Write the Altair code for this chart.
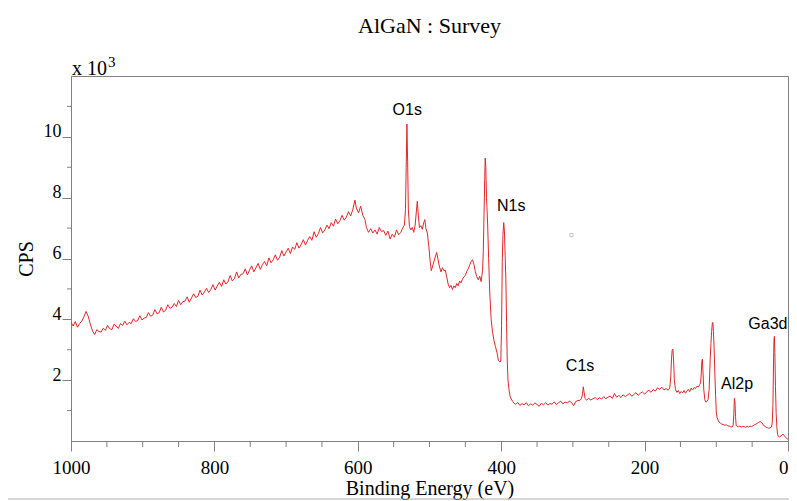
import altair as alt
import pandas as pd

# ---------------- data ----------------
ev1 = [1000, 997, 994, 991, 988, 985, 982, 979, 976, 973, 970, 967, 964, 961, 958, 955, 952, 949, 946, 943,
       940, 937, 934, 931, 928, 925, 922, 919, 916, 913, 910, 907, 904, 901, 898, 895, 892, 889, 886, 883,
       880, 877, 874, 871, 868, 865, 862, 859, 856, 853, 850, 847, 844, 841, 838, 835, 832, 829, 826, 823,
       820, 817, 814, 811, 808, 805, 802, 799, 796, 793, 790, 787, 784, 781, 778, 775, 772, 769, 766, 763,
       760, 757, 754, 751, 748, 745, 742, 739, 736, 733, 730, 727, 724, 721, 718, 715, 712, 709, 706, 703,
       700, 697, 694, 691, 688, 685, 682, 679, 676, 673, 670, 667, 664, 661, 658, 655, 652, 649, 646, 643,
       640, 637, 634, 631, 628, 625, 622, 619, 616, 613, 610, 607, 604, 602, 599, 596, 593, 590, 588]
cps1 = [3.90, 3.78, 3.93, 3.74, 3.86, 3.94, 4.08, 4.26, 4.10, 3.84, 3.62, 3.50, 3.66, 3.60, 3.58, 3.71, 3.64, 3.80, 3.69, 3.66,
        3.84, 3.78, 3.70, 3.86, 3.80, 3.94, 3.82, 3.90, 3.86, 4.02, 3.93, 3.96, 4.12, 3.98, 4.04, 4.06, 4.22, 4.10, 4.14, 4.32,
        4.18, 4.22, 4.40, 4.24, 4.30, 4.48, 4.36, 4.40, 4.52, 4.42, 4.62, 4.48, 4.58, 4.60, 4.74, 4.56, 4.70, 4.84, 4.72, 4.76,
        4.96, 4.80, 4.90, 5.02, 4.88, 4.98, 5.14, 4.96, 5.10, 5.22, 5.08, 5.30, 5.16, 5.24, 5.44, 5.26, 5.34, 5.56, 5.36, 5.48,
        5.50, 5.66, 5.46, 5.62, 5.76, 5.56, 5.70, 5.84, 5.64, 5.80, 5.90, 5.76, 6.02, 5.86, 5.96, 6.12, 5.94, 6.04, 6.26, 6.08,
        6.22, 6.34, 6.16, 6.38, 6.30, 6.52, 6.34, 6.46, 6.62, 6.44, 6.60, 6.72, 6.60, 6.88, 6.70, 6.82, 7.02, 6.84, 6.94, 7.10,
        6.98, 7.18, 7.06, 7.30, 7.14, 7.24, 7.42, 7.26, 7.36, 7.54, 7.40, 7.60, 7.92, 7.66, 7.50, 7.72, 7.42, 7.28, 7.02]

ev2 = [585, 582, 579, 576, 573, 570, 567, 564, 561, 558, 555, 552, 549, 546, 543, 540, 537, 535, 533.5, 532.5,
       531.5, 530.5, 529.5, 528, 526, 524, 522, 520, 518.5, 517, 515.5, 514, 512, 510, 508, 506.5, 505, 503, 501, 499,
       497.5, 496, 494, 492, 490, 488, 486, 484, 482, 480, 478, 476, 474, 472, 470, 468, 466, 464, 462, 460,
       458, 456, 454, 452, 450, 448, 446, 444, 442, 440, 438, 436, 434, 432, 430, 428, 426, 425, 424, 423,
       422.3, 421.5, 420.5, 419, 417.5, 416, 414, 412, 410, 408, 406, 404, 402, 400.5, 399.5, 398.5, 397.5, 396.5, 395.5, 394.5,
       393.5, 392.5, 391.5, 390.5, 389, 387.5, 386, 384, 382]
cps2 = [6.86, 6.98, 6.84, 6.94, 6.80, 7.02, 6.88, 6.92, 6.76, 6.90, 6.64, 6.80, 6.70, 6.94, 6.78, 6.86, 7.02, 7.10, 7.60, 9.00,
        10.42, 9.20, 7.60, 7.05, 6.94, 7.02, 6.86, 7.10, 7.50, 7.88, 7.40, 7.02, 7.08, 6.96, 7.18, 7.28, 6.98, 6.84, 6.40, 5.90,
        5.60, 5.72, 5.88, 6.05, 6.20, 5.96, 5.72, 5.56, 5.70, 5.60, 5.62, 5.40, 5.16, 5.04, 5.12, 4.98, 5.10, 5.04, 5.18, 5.10,
        5.26, 5.20, 5.32, 5.40, 5.44, 5.58, 5.66, 5.78, 5.90, 5.96, 5.80, 5.56, 5.40, 5.30, 5.42, 5.24, 5.60, 6.20, 7.40, 8.60,
        9.30, 9.00, 8.00, 7.20, 6.00, 4.90, 4.00, 3.56, 3.30, 3.10, 2.92, 2.66, 2.60, 2.62, 3.80, 5.90, 6.80, 7.18, 6.90, 6.10,
        5.30, 3.90, 2.60, 2.00, 1.66, 1.46, 1.38, 1.30, 1.24]

ev3 = [380, 377, 374, 371, 368, 365, 362, 359, 356, 353, 350, 347, 344, 341, 338, 335, 332, 329, 326, 323,
       320, 317, 314, 311, 308, 305, 302, 299, 296, 293, 290, 288, 286.5, 285.5, 284.5, 283, 281, 278, 275, 272,
       269, 266, 263, 260, 257, 254, 251, 248, 245, 242, 239, 236, 233, 230, 227, 224, 221, 218, 215, 212,
       209, 206, 203, 200, 197, 194, 191, 188, 185, 182, 179, 176, 173, 170, 167, 165, 163.5, 162.5, 161.5, 160.5,
       159.5, 158.5, 157, 155, 153, 151, 149, 147, 145, 143, 141, 139, 137, 135, 133, 131, 129, 127, 125, 123,
       122, 121, 120.2, 119.4, 118.6, 117.5, 116, 114.5, 113, 111.5, 110, 108.5, 107.5, 106.5, 105.5, 104.8, 104, 103, 102, 101,
       100, 99, 97.5, 96, 94, 92, 90, 88, 86, 84, 82, 80, 78, 76.5, 75.5, 74.8, 74, 73.2, 72.3, 71,
       69, 67, 65, 63, 61, 59, 57, 55, 53, 51, 49, 47, 45, 43, 41, 39, 37, 35, 33, 31,
       29, 27, 25, 23, 22, 21, 20.3, 19.6, 19, 18.3, 17.5, 16.5, 15.5, 14.5, 13.5, 12, 10, 8.5, 7, 5.5,
       4, 2.5, 1, 0]
cps3 = [1.20, 1.27, 1.17, 1.23, 1.19, 1.26, 1.16, 1.22, 1.18, 1.25, 1.20, 1.14, 1.24, 1.19, 1.26, 1.18, 1.23, 1.21, 1.29, 1.20,
        1.26, 1.31, 1.22, 1.28, 1.25, 1.31, 1.27, 1.16, 1.30, 1.33, 1.34, 1.40, 1.55, 1.78, 1.62, 1.40, 1.34, 1.40, 1.35, 1.39,
        1.43, 1.36, 1.42, 1.38, 1.46, 1.39, 1.44, 1.48, 1.40, 1.56, 1.44, 1.50, 1.43, 1.52, 1.46, 1.51, 1.56, 1.47, 1.53, 1.59,
        1.50, 1.57, 1.61, 1.54, 1.62, 1.67, 1.60, 1.69, 1.64, 1.75, 1.70, 1.77, 1.68, 1.72, 1.67, 1.74, 2.10, 2.70, 3.00, 3.02,
        2.60, 2.00, 1.70, 1.60, 1.66, 1.56, 1.63, 1.58, 1.66, 1.57, 1.64, 1.70, 1.62, 1.74, 1.68, 1.76, 1.72, 1.80, 1.78, 1.86,
        1.90, 2.20, 2.60, 2.69, 2.30, 1.70, 1.36, 1.28, 1.30, 1.36, 1.70, 2.70, 3.20, 3.60, 3.88, 3.90, 3.60, 3.00, 2.20, 1.50,
        0.95, 0.78, 0.68, 0.62, 0.58, 0.55, 0.54, 0.52, 0.53, 0.50, 0.49, 0.47, 0.46, 0.52, 0.90, 1.40, 1.30, 0.80, 0.52, 0.48,
        0.47, 0.49, 0.46, 0.48, 0.47, 0.45, 0.48, 0.46, 0.49, 0.47, 0.50, 0.53, 0.55, 0.58, 0.61, 0.64, 0.62, 0.55, 0.49, 0.46,
        0.44, 0.42, 0.43, 0.46, 0.60, 1.20, 2.40, 3.30, 3.44, 2.90, 1.80, 0.90, 0.45, 0.22, 0.15, 0.13, 0.16, 0.20, 0.22, 0.19,
        0.14, 0.10, 0.07, 0.06]

peak_names = ["O1s", "N1s", "C1s", "Al2p", "Ga3d"]
peak_ev = [531, 386, 290, 71, 28]
peak_cps = [10.87, 7.74, 2.47, 1.88, 3.86]

x_major = [0, 200, 400, 600, 800, 1000]
x_minor = [50, 100, 150, 250, 300, 350, 450, 500, 550, 650, 700, 750, 850, 900, 950]
y_major = [2, 4, 6, 8, 10]
y_minor = [1, 3, 5, 7, 9, 11]

marker_ev = [302]
marker_cps = [6.77]

title_text = "AlGaN : Survey"
x_title = "Binding Energy (eV)"
y_title = "CPS"

# ---------------- chart ----------------
W, H = 717, 365
GREY = "#808080"
SERIF = "Liberation Serif"
SANS = "Liberation Sans"

spec = pd.DataFrame({"ev": ev1 + ev2 + ev3, "cps": cps1 + cps2 + cps3})
xs = alt.Scale(domain=[0, 1000], reverse=True, nice=False, zero=False)
ys = alt.Scale(domain=[0, 12], nice=False, zero=False)

x_axis = alt.Axis(
    values=x_major, format="d", title=x_title, grid=False, tickSize=10, tickColor=GREY,
    domainColor=GREY, labelFont=SERIF, labelFontSize=19, labelColor="black",
    labelBaseline="alphabetic", labelPadding=22, labelFlush=False, labelOverlap=False,
    labelAlign={"condition": {"test": "datum.value == 0", "value": "right"}, "value": "center"},
    titleFont=SERIF, titleFontSize=20, titleFontWeight="normal", titleColor="black",
    titleX=W / 2, titleY=53, titleAlign="center", titleBaseline="alphabetic")
y_axis = alt.Axis(
    values=y_major, format="d", title=y_title, grid=False, tickSize=9, tickColor=GREY,
    domainColor=GREY, labelFont=SERIF, labelFontSize=18, labelColor="black",
    labelBaseline="alphabetic", labelAlign="right", labelPadding=1, labelFlush=False,
    labelOverlap=False,
    titleFont=SERIF, titleFontSize=20, titleFontWeight="normal", titleColor="black",
    titleX=-45, titleY=H / 2, titleAngle=270, titleAlign="center", titleBaseline="middle")

X = alt.X("ev:Q", scale=xs, axis=x_axis)
Y = alt.Y("cps:Q", scale=ys, axis=y_axis)

line = alt.Chart(spec).mark_line(color="#e3262b", strokeWidth=1, clip=True).encode(x=X, y=Y)

xminor = alt.Chart(pd.DataFrame({"ev": x_minor})).mark_rule(color=GREY, strokeWidth=1).encode(
    x=X, y=alt.value(H), y2=alt.value(H + 6))

yminor = alt.Chart(pd.DataFrame({"cps": y_minor})).mark_rule(color=GREY, strokeWidth=1).encode(
    y=Y, x=alt.value(-4), x2=alt.value(0))

labels = alt.Chart(pd.DataFrame({"ev": peak_ev, "cps": peak_cps, "name": peak_names})).mark_text(
    font=SANS, fontSize=16, color="black", align="center", baseline="middle").encode(
    x=X, y=Y, text="name:N")

marker = alt.Chart(pd.DataFrame({"ev": marker_ev, "cps": marker_cps})).mark_point(
    shape="square", size=10, filled=False, color="#999999", strokeWidth=0.8).encode(x=X, y=Y)

title = alt.Chart(pd.DataFrame({"t": [title_text]})).mark_text(
    font=SERIF, fontSize=22, color="black", align="center", baseline="alphabetic").encode(
    text="t:N", x=alt.value(W / 2), y=alt.value(-43))

exp_base = alt.Chart(pd.DataFrame({"t": ["x 10"]})).mark_text(
    font=SERIF, fontSize=20, color="black", align="left", baseline="alphabetic").encode(
    text="t:N", x=alt.value(1), y=alt.value(-1))
exp_sup = alt.Chart(pd.DataFrame({"t": ["3"]})).mark_text(
    font=SERIF, fontSize=15, color="black", align="left", baseline="alphabetic").encode(
    text="t:N", x=alt.value(37), y=alt.value(-9))

bottom_rule = alt.Chart(pd.DataFrame({"t": [0]})).mark_rule(color="#b0b0b0", strokeWidth=1).encode(
    x=alt.value(-63), x2=alt.value(W + 1), y=alt.value(H + 58))

chart = alt.layer(line, xminor, yminor, labels, marker, title, exp_base, exp_sup, bottom_rule).properties(
    width=W, height=H,
    autosize=alt.AutoSizeParams(type="none"),
    padding={"left": 63, "top": 68, "right": 1, "bottom": 59},
).configure_view(stroke=GREY, strokeWidth=1)

chart.save("out.html", embed_options={"renderer": "svg", "actions": False})
